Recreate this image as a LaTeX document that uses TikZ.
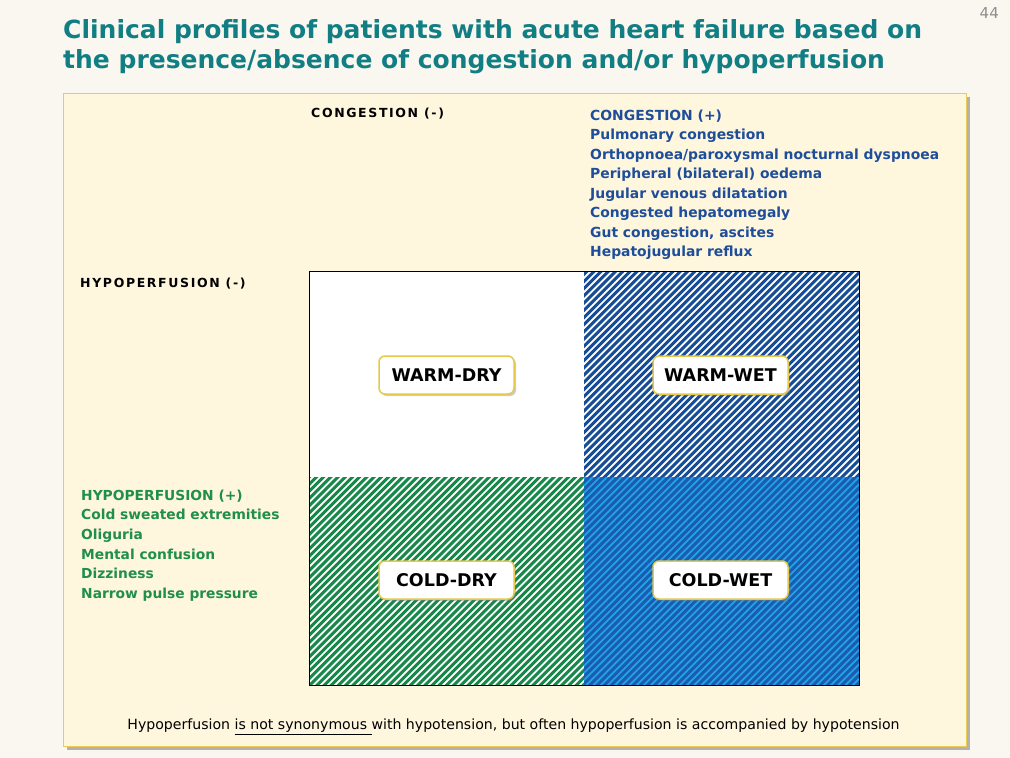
\documentclass[tikz,border=0pt]{standalone}
\usepackage{fontspec}
\setmainfont{DejaVu Sans}
\newfontfamily\capsfont[LetterSpace=13]{DejaVu Sans}
\usetikzlibrary{shadows}
\definecolor{bg}{HTML}{F9F7F0}
\definecolor{panel}{HTML}{FFF6DE}
\definecolor{panelborder}{HTML}{EBCB55}
\definecolor{titleteal}{HTML}{117E84}
\definecolor{cblue}{HTML}{1E4E9A}
\definecolor{hgreen}{HTML}{1F8F4A}
\definecolor{stripeblue}{HTML}{164D96}
\definecolor{stripegreen}{HTML}{17884A}
\definecolor{lightblue}{HTML}{22A2E6}
\definecolor{darkblue}{HTML}{1A5CB0}
\definecolor{labelborder}{HTML}{E6C84A}
\definecolor{pagenum}{HTML}{8C8C8C}
\tikzset{
  quadlabel/.style={draw=labelborder, line width=1.5pt, fill=white, rounded corners=6pt,
    minimum width=135pt, minimum height=38pt, inner sep=0pt,
    font=\fontsize{17.5}{19}\selectfont\bfseries,
    drop shadow={shadow xshift=2pt, shadow yshift=-2pt, opacity=0.4}},
  bluetxt/.style={anchor=base west, inner sep=0pt, text=cblue, font=\fontsize{13.9}{16}\selectfont\bfseries},
  greentxt/.style={anchor=base west, inner sep=0pt, text=hgreen, font=\fontsize{13.8}{16}\selectfont\bfseries},
  axistxt/.style={anchor=base west, inner sep=0pt, font=\fontsize{12.5}{14}\capsfont\bfseries},
  titletxt/.style={anchor=base west, inner sep=0pt, text=titleteal, font=\fontsize{25}{28}\selectfont\bfseries},
  stripe/.style={line width=3pt}
}
\begin{document}
\begin{tikzpicture}[x=1pt,y=-1pt]
\useasboundingbox (0,0) rectangle (1010,758);
\fill[bg] (0,0) rectangle (1010,758);
% page number
\node[anchor=base east, inner sep=0pt, text=pagenum, font=\fontsize{15}{17}\selectfont] (pg) at (999,18) {44};
% title
\node[titletxt] (t1) at (63,38) {Clinical profiles of patients with acute heart failure based on};
\node[titletxt] (t2) at (63,68) {the presence/absence of congestion and/or hypoperfusion};
% panel
\fill[black!30] (67,97) rectangle (970,750);
\filldraw[fill=panel, draw=panelborder, line width=1pt] (63,93) rectangle (966,746);
% quadrants
\fill[white] (309,271) rectangle (584,477);
\begin{scope}
  \clip (584,271) rectangle (859,477);
  \fill[white] (584,271) rectangle (859,477);
  \foreach \x in {370,377.2,...,866} \draw[stripe, stripeblue] (\x,481) -- (\x+214,267);
\end{scope}
\begin{scope}
  \clip (309,477) rectangle (584,685);
  \fill[white] (309,477) rectangle (584,685);
  \foreach \x in {90,97.2,...,590} \draw[stripe, stripegreen] (\x,689) -- (\x+216,473);
\end{scope}
\begin{scope}
  \clip (584,477) rectangle (859,685);
  \fill[lightblue] (584,477) rectangle (859,685);
  \foreach \x in {370,377.2,...,866} \draw[stripe, darkblue] (\x,689) -- (\x+216,473);
\end{scope}
\draw[black, line width=1pt] (309,271) rectangle (859,685);
% labels
\node[quadlabel] (wd) at (446.5,375) {WARM-DRY};
\node[quadlabel] (ww) at (720.5,375) {WARM-WET};
\node[quadlabel] (cd) at (446.5,580) {COLD-DRY};
\node[quadlabel] (cw) at (720.5,580) {COLD-WET};
% axis labels
\node[axistxt] (cm) at (311,117.5) {CONGESTION (-)};
\node[axistxt] (hm) at (80,287.5) {HYPOPERFUSION (-)};
% congestion list
\node[bluetxt] (b0) at (590,120) {CONGESTION (+)};
\node[bluetxt] (b1) at (590,139.5) {Pulmonary congestion};
\node[bluetxt] (b2) at (590,159) {Orthopnoea/paroxysmal nocturnal dyspnoea};
\node[bluetxt] (b3) at (590,178.5) {Peripheral (bilateral) oedema};
\node[bluetxt] (b4) at (590,198) {Jugular venous dilatation};
\node[bluetxt] (b5) at (590,217.5) {Congested hepatomegaly};
\node[bluetxt] (b6) at (590,237) {Gut congestion, ascites};
\node[bluetxt] (b7) at (590,256.5) {Hepatojugular reflux};
% hypoperfusion list
\node[greentxt] (g0) at (81,500) {HYPOPERFUSION (+)};
\node[greentxt] (g1) at (81,519.7) {Cold sweated extremities};
\node[greentxt] (g2) at (81,539.4) {Oliguria};
\node[greentxt] (g3) at (81,559.1) {Mental confusion};
\node[greentxt] (g4) at (81,578.8) {Dizziness};
\node[greentxt] (g5) at (81,598.5) {Narrow pulse pressure};
% note
\node[anchor=base, inner sep=0pt, font=\fontsize{14.1}{16}\selectfont] (note) at (513.5,729.5)
  {Hypoperfusion \underline{is not synonymous }with hypotension, but often hypoperfusion is accompanied by hypotension};
\end{tikzpicture}
\end{document}
